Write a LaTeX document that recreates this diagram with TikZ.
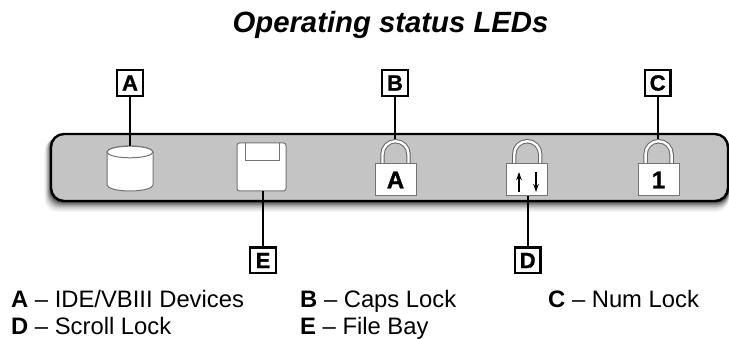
\documentclass[tikz,border=0pt]{standalone}
\usepackage{fontspec}
\setmainfont{Liberation Sans}
\newfontfamily\heavyfont[FakeBold=1.2]{Liberation Sans Bold}
\usetikzlibrary{arrows.meta}
\definecolor{barfill}{gray}{0.77}
\tikzset{
  x=1pt,y=-1pt,
  tag/.style={draw=black,line width=2.4pt,fill=white,minimum size=25.6pt,inner sep=0pt,font=\heavyfont\fontsize{22}{22}\selectfont},
  lead/.style={draw=black,line width=2.1pt},
  icon/.style={draw=black!55,line width=1pt,fill=white},
  keytext/.style={font=\heavyfont\fontsize{24}{24}\selectfont},
  legend/.style={anchor=base west,inner sep=0pt,font=\fontsize{23.8}{23.8}\selectfont},
  updown/.style={line width=1.4pt,-{Stealth[length=8pt,width=5.5pt]}},
}
\newcommand{\lockicon}[1]{%
  \draw[line width=4.4pt,draw=black!60] (#1-13,164) -- (#1-13,154.2) arc[start angle=180,end angle=360,radius=13] -- (#1+13,164);
  \draw[line width=2.4pt,draw=white] (#1-13,164) -- (#1-13,154.2) arc[start angle=180,end angle=360,radius=13] -- (#1+13,164);
  \path[icon] (#1-20.5,164) rectangle (#1+20.5,196);
}
\begin{document}
\begin{tikzpicture}
\useasboundingbox (0,0) rectangle (729,339);
\node[font=\bfseries\itshape\fontsize{29.3}{29.3}\selectfont,anchor=base] (title) at (390.5,33) {Operating status LEDs};
% shadow and bar
\foreach \o/\g in {12/4,11/7,10/10,9/14,8/19,7/25,6/32,5/40,4/48,3/56,2/66,1/76}{
  \fill[black!\g!white,rounded corners=13pt] (51-\o*0.55,134+\o*0.35) rectangle (729,201+\o*0.9);
}
\node[draw=black,line width=2.4pt,fill=barfill,rounded corners=13pt,minimum width=677pt,minimum height=67pt,inner sep=0pt] (bar) at (389.5,167.5) {};
% cylinder
\path[icon] (107,152) -- (107,185) arc[start angle=180,end angle=0,x radius=23,y radius=6] -- (153,152) arc[start angle=0,end angle=-180,x radius=23,y radius=6] -- cycle;
\draw[icon] (130,152) ellipse[x radius=23,y radius=5.8];
\coordinate (cyl) at (130,146);
% floppy
\path[icon,rounded corners=2.5pt] (237,143) rectangle (286,191);
\draw[draw=black!55,line width=1pt] (245.5,143) |- (279,161) -- (279,143);
\coordinate (flop) at (262,191);
% locks
\lockicon{395.5}
\lockicon{527.2}
\lockicon{658.6}
\node[keytext] (ka) at (395.5,180) {A};
\node[keytext] (kb) at (658.5,180) {1};
\draw[updown] (519,192) -- (519,172);
\draw[updown] (536,172) -- (536,192);
\coordinate (lb) at (395,139);
\coordinate (lc) at (657.7,139);
\coordinate (ld) at (527.7,196.5);
% tags
\node[tag] (A) at (130,83) {A};
\node[tag] (B) at (395,83) {B};
\node[tag] (C) at (657.7,83) {C};
\node[tag] (D) at (527.7,260.5) {D};
\node[tag] (E) at (263,260.5) {E};
\draw[lead] (A) -- (A|-cyl);
\draw[lead] (B) -- (lb);
\draw[lead] (C) -- (lc);
\draw[lead] (D) -- (ld);
\draw[lead] (E) -- (E|-flop);
% legend
\node[legend] (l1) at (11,308) {\textbf{A} – IDE/VBIII Devices};
\node[legend] (l2) at (300,308) {\textbf{B} – Caps Lock};
\node[legend] (l3) at (548,308) {\textbf{C} – Num Lock};
\node[legend] (l4) at (11,335) {\textbf{D} – Scroll Lock};
\node[legend] (l5) at (300,335) {\textbf{E} – File Bay};
\end{tikzpicture}
\end{document}
